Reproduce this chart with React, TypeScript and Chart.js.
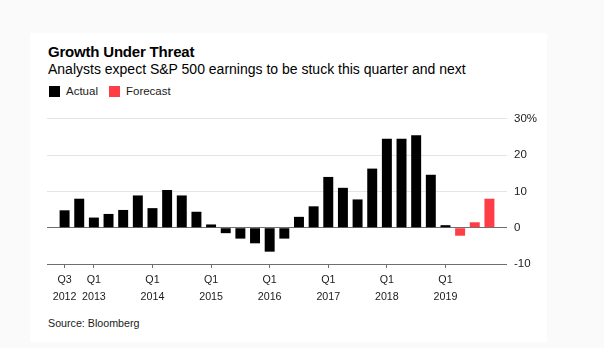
import React, { useEffect, useRef } from "react";
import { Chart, registerables } from "chart.js";

Chart.register(...registerables);

const categories = [
  "2012 Q3", "2012 Q4",
  "2013 Q1", "2013 Q2", "2013 Q3", "2013 Q4",
  "2014 Q1", "2014 Q2", "2014 Q3", "2014 Q4",
  "2015 Q1", "2015 Q2", "2015 Q3", "2015 Q4",
  "2016 Q1", "2016 Q2", "2016 Q3", "2016 Q4",
  "2017 Q1", "2017 Q2", "2017 Q3", "2017 Q4",
  "2018 Q1", "2018 Q2", "2018 Q3", "2018 Q4",
  "2019 Q1", "2019 Q2", "2019 Q3", "2019 Q4",
];

const actualValues: (number | null)[] = [
  4.8, 8.0,
  2.8, 3.8, 4.9, 8.9,
  5.4, 10.4, 8.9, 4.4,
  0.9, -1.5, -3.0, -4.3,
  -6.6, -3.0, 3.0, 5.9,
  14.0, 11.0, 7.8, 16.3,
  24.5, 24.5, 25.5, 14.6,
  0.7, null, null, null,
];

const forecastValues: (number | null)[] = [
  null, null,
  null, null, null, null,
  null, null, null, null,
  null, null, null, null,
  null, null, null, null,
  null, null, null, null,
  null, null, null, null,
  null, -2.2, 1.5, 8.0,
];

const tickCategories = ["2012 Q3", "2013 Q1", "2014 Q1", "2015 Q1", "2016 Q1", "2017 Q1", "2018 Q1", "2019 Q1"];
const tickQuarters = ["Q3", "Q1", "Q1", "Q1", "Q1", "Q1", "Q1", "Q1"];
const tickYears = ["2012", "2013", "2014", "2015", "2016", "2017", "2018", "2019"];

const yTickValues = [-10, 0, 10, 20, 30];
const yTickLabels = ["-10", "0", "10", "20", "30%"];

const FONT = '"Liberation Sans", Arial, Helvetica, sans-serif';
const BLACK = "#000000";
const RED = "#ff3d47";

function toPoints(values: (number | null)[]) {
  const pts: { x: number; y: number }[] = [];
  values.forEach((v, i) => {
    if (v !== null) pts.push({ x: i, y: v });
  });
  return pts;
}

export default function App() {
  const ref = useRef<HTMLCanvasElement | null>(null);

  useEffect(() => {
    if (!ref.current) return;
    const tickIdx = tickCategories.map((c) => categories.indexOf(c));
    const chart = new Chart(ref.current, {
      type: "bar",
      data: {
        labels: categories,
        datasets: [
          {
            label: "Actual",
            data: toPoints(actualValues) as any,
            backgroundColor: BLACK,
            borderWidth: 0,
            grouped: false,
            categoryPercentage: 1,
            barPercentage: 0.68,
          } as any,
          {
            label: "Forecast",
            data: toPoints(forecastValues) as any,
            backgroundColor: RED,
            borderWidth: 0,
            grouped: false,
            categoryPercentage: 1,
            barPercentage: 0.68,
          } as any,
        ],
      },
      options: {
        responsive: false,
        animation: false,
        devicePixelRatio: 1,
        layout: { padding: { left: 17, right: 0, top: 12, bottom: 0 } },
        plugins: {
          legend: { display: false },
          tooltip: { enabled: false },
          title: { display: false },
        },
        scales: {
          x: {
            type: "linear",
            offset: false,
            min: -1.2,
            max: 30.2,
            afterBuildTicks: (axis: any) => {
              axis.ticks = tickIdx.map((v) => ({ value: v }));
            },
            afterFit: (axis: any) => {
              axis.height = 50;
            },
            grid: {
              drawOnChartArea: false,
              drawTicks: true,
              tickLength: 4,
              color: "#6f6f6f",
              offset: false,
            },
            border: { display: false },
            ticks: {
              autoSkip: false,
              maxRotation: 0,
              padding: 3,
              color: "#1a1a1a",
              font: { family: FONT, size: 10.7, lineHeight: 1.65 },
              callback: (value: any) => {
                const k = tickIdx.indexOf(Number(value));
                return k >= 0 ? [tickQuarters[k], tickYears[k]] : "";
              },
            },
          },
          y: {
            type: "linear",
            position: "right",
            min: -10,
            max: 30,
            afterBuildTicks: (axis: any) => {
              axis.ticks = yTickValues.map((v) => ({ value: v }));
            },
            afterFit: (axis: any) => {
              axis.width = 40;
            },
            grid: {
              drawTicks: false,
              color: (ctx: any) =>
                ctx.tick && (ctx.tick.value === 0 || ctx.tick.value === -10) ? "#6f6f6f" : "#e4e4e4",
            },
            border: { display: false },
            ticks: {
              padding: 7,
              color: "#1a1a1a",
              font: { family: FONT, size: 11.5 },
              callback: (value: any) => {
                const k = yTickValues.indexOf(Number(value));
                return k >= 0 ? yTickLabels[k] : "";
              },
            },
          },
        },
      } as any,
    });
    return () => chart.destroy();
  }, []);

  return (
    <div style={{ position: "fixed", left: 0, top: 0, width: 604, height: 348, background: "#fafafa", fontFamily: FONT, overflow: "hidden" }}>
      <div style={{ position: "absolute", left: 30, top: 33, width: 517, height: 309, background: "#ffffff" }} />
      <div style={{ position: "absolute", left: 48, top: 43, fontSize: 15, lineHeight: "18px", fontWeight: 700, color: "#000", letterSpacing: "-0.2px", whiteSpace: "nowrap" }}>
        Growth Under Threat
      </div>
      <div style={{ position: "absolute", left: 48, top: 60.6, fontSize: 14, lineHeight: "17px", color: "#000", whiteSpace: "nowrap" }}>
        Analysts expect S&amp;P 500 earnings to be stuck this quarter and next
      </div>
      <div style={{ position: "absolute", left: 49, top: 85, height: 12, display: "flex", alignItems: "center", fontSize: 11.5, color: "#1a1a1a", whiteSpace: "nowrap" }}>
        <span style={{ display: "inline-block", width: 11, height: 11, background: BLACK, marginRight: 6 }} />
        <span>Actual</span>
        <span style={{ display: "inline-block", width: 11, height: 11, background: RED, marginLeft: 11, marginRight: 6 }} />
        <span>Forecast</span>
      </div>
      <canvas ref={ref} width={517} height={209} style={{ position: "absolute", left: 30, top: 105, width: 517, height: 209 }} />
      <div style={{ position: "absolute", left: 48, top: 317, fontSize: 10.7, lineHeight: "13px", color: "#1a1a1a", whiteSpace: "nowrap" }}>
        Source: Bloomberg
      </div>
    </div>
  );
}
